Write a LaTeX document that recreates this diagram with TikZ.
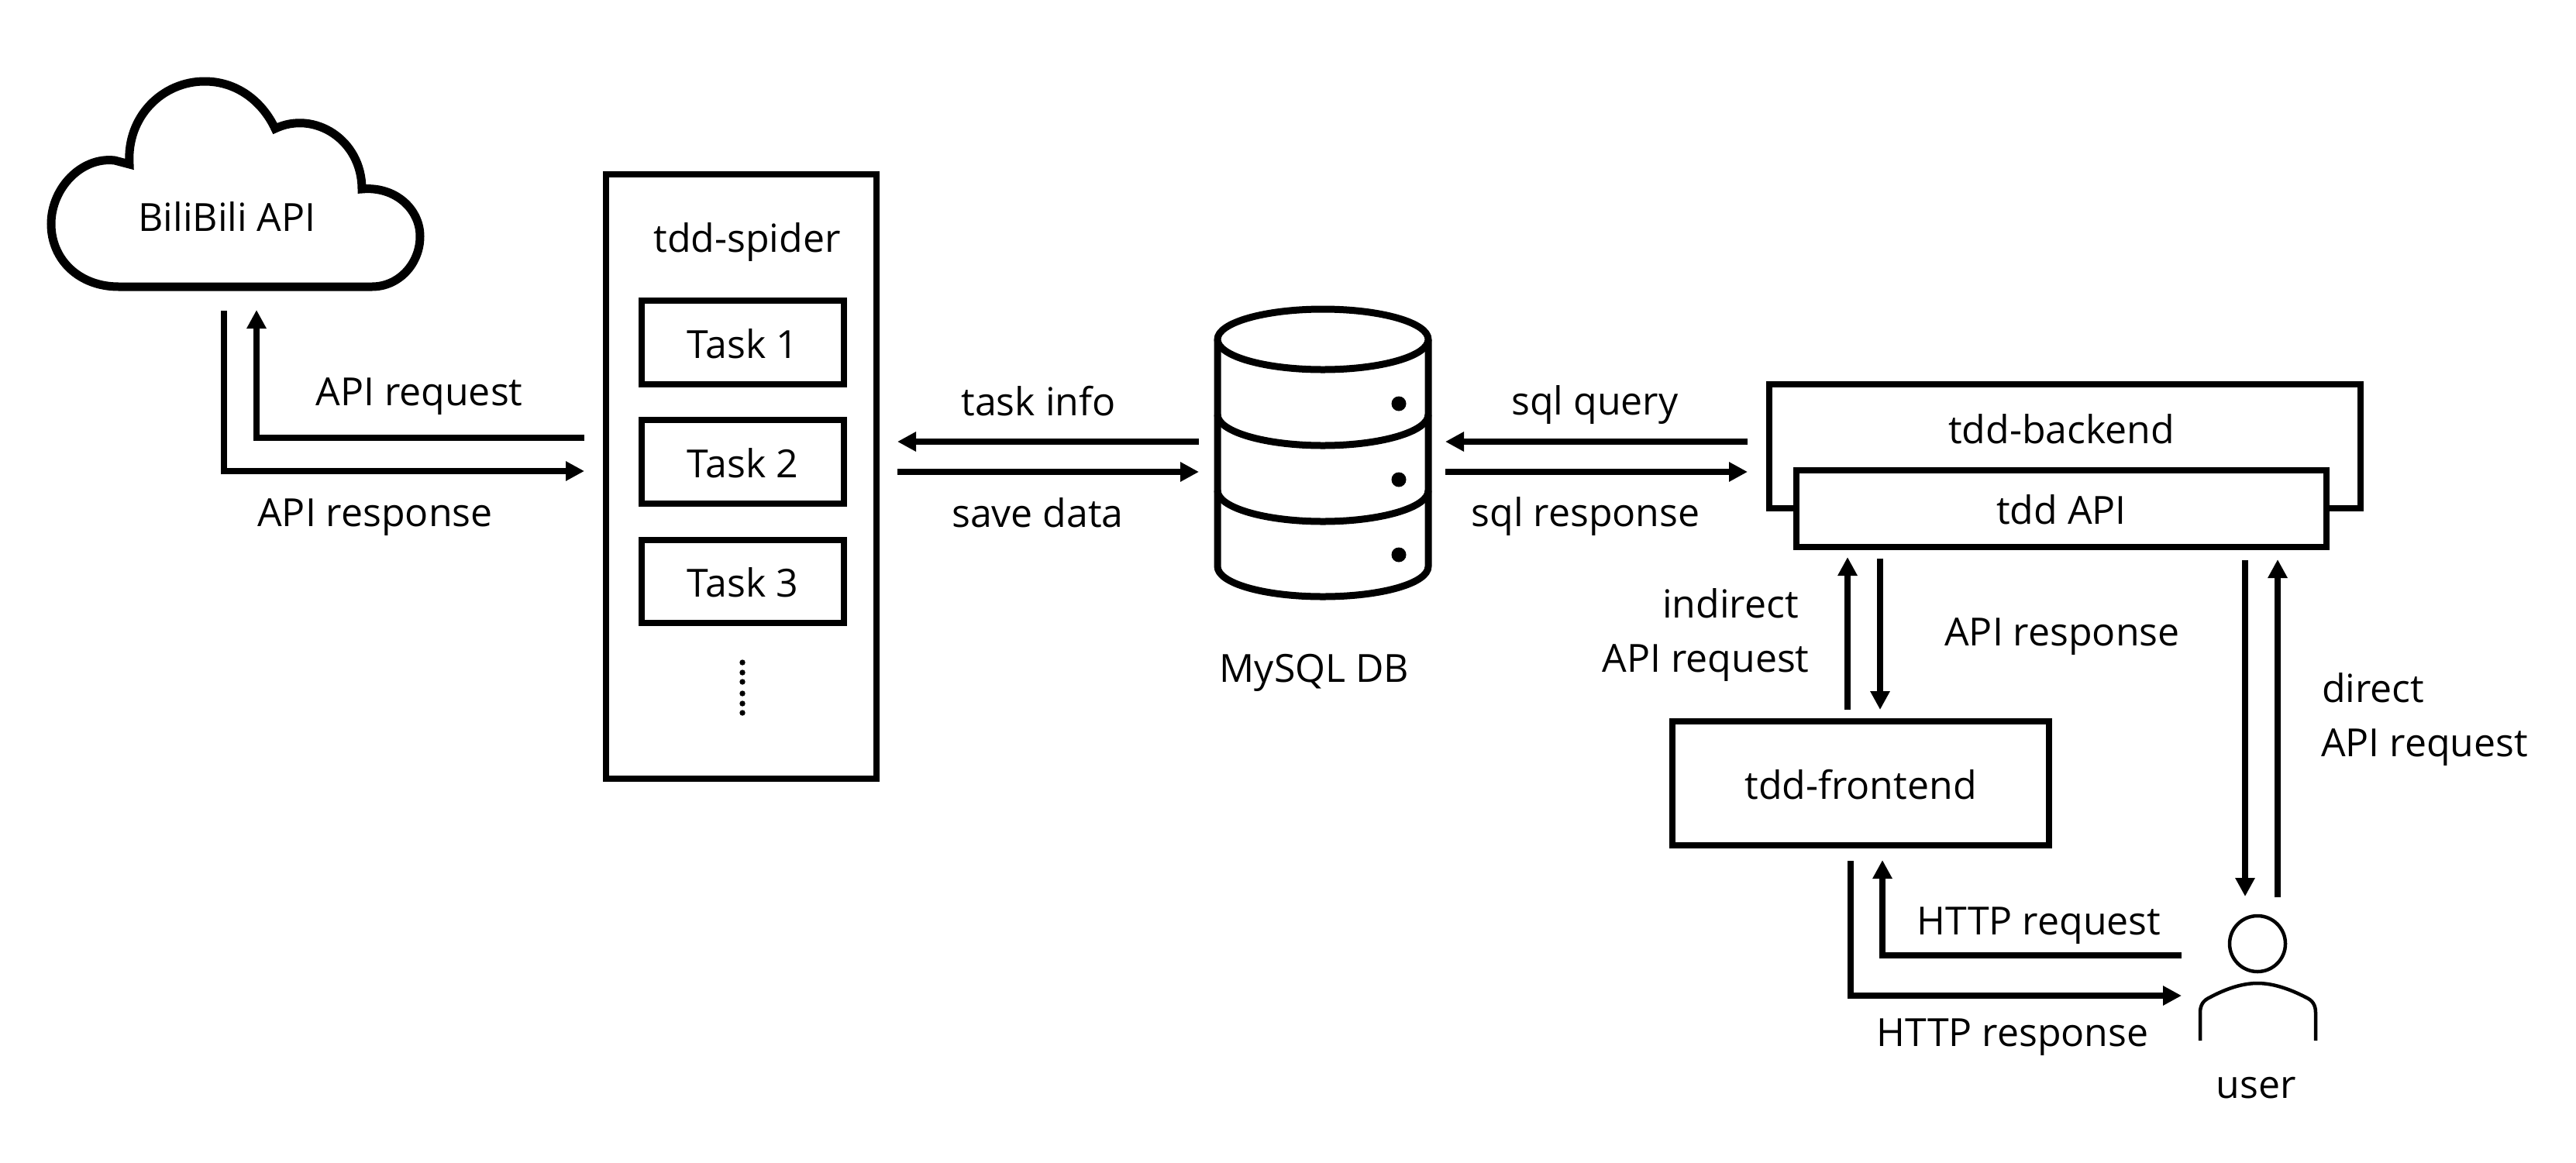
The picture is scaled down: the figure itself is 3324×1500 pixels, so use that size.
\documentclass[tikz,border=0pt]{standalone}
\usepackage{fontspec}
\setmainfont{Open Sans}
\usetikzlibrary{arrows.meta}
\tikzset{
  lbl/.style={anchor=base,inner sep=0pt,outer sep=0pt,font=\fontsize{50}{60}\selectfont},
  lblw/.style={lbl,anchor=base west},
  boxed/.style={draw=black,line width=8pt,fill=white,inner sep=0pt,outer sep=0pt,
    text height=50pt,text depth=10pt,font=\fontsize{50}{60}\selectfont},
  conn/.style={draw=black,line width=8pt,line cap=butt,miter limit=10},
  arr/.style={conn,-{Triangle[length=24pt,width=24pt]}},
  thick outline/.style={draw=black,line width=9pt,line join=round},
}
\begin{document}
\begin{tikzpicture}[x=1pt,y=-1pt]
\path[use as bounding box,fill=white] (0,0) rectangle (3324,1500);

% cloud
\path[draw=black,line width=11pt,fill=white,miter limit=4]
  (153,370) .. controls (102,370) and (66,335) .. (66,289)
  .. controls (66,243) and (105,202) .. (148,207) -- (167,212)
  .. controls (163,150) and (210,105) .. (264,105)
  .. controls (305,105) and (338,130) .. (355,166)
  .. controls (405,142) and (467,180) .. (467,244)
  .. controls (510,240) and (542,270) .. (542,305)
  .. controls (542,340) and (515,370) .. (480,370) -- cycle;
\node[lbl] (cloud) at (293,298) {BiliBili API};

% spider
\node[boxed,minimum width=349pt,minimum height=780pt] (spider) at (956.5,615) {};
\node[lbl] (spidertitle) at (964,325) {tdd-spider};
\node[boxed,minimum width=261pt,minimum height=108pt] (task1) at (958.5,442) {Task 1};
\node[boxed,minimum width=261pt,minimum height=108pt] (task2) at (958.5,596) {Task 2};
\node[boxed,minimum width=261pt,minimum height=107pt] (task3) at (958.5,750.5) {Task 3};
\foreach \yy in {855,868,880,895,908,920} \fill (958,\yy) circle (3.7pt);

% database
\path[thick outline,fill=white] (1571,438) -- (1571,731)
  .. controls (1571,753) and (1632,770) .. (1707,770)
  .. controls (1782,770) and (1843,753) .. (1843,731) -- (1843,438);
\path[thick outline,fill=white] (1707,438) ellipse [x radius=136pt,y radius=39pt];
\foreach \yy in {535,633}
  \path[thick outline] (1571,\yy) .. controls (1571,\yy+22) and (1632,\yy+40) .. (1707,\yy+40)
    .. controls (1782,\yy+40) and (1843,\yy+22) .. (1843,\yy);
\foreach \yy in {521,619,716} \fill (1805,\yy) circle (9.5pt);
\node[lbl] (db) at (1696,880) {MySQL DB};
\coordinate (dbL1) at (1547,570); \coordinate (dbL2) at (1547,609);
\coordinate (dbR1) at (1865,570); \coordinate (dbR2) at (1865,609);

% backend
\draw[draw=black,line width=8pt] (2318,656) -- (2283,656) -- (2283,496) -- (3046,496) -- (3046,656) -- (3002,656);
\node[lbl] (backend) at (2660,572) {tdd-backend};
\node[boxed,minimum width=684pt,minimum height=99pt] (api) at (2660,656.5) {tdd API};

% frontend
\node[boxed,minimum width=486pt,minimum height=160pt] (frontend) at (2401,1011) {tdd-frontend};

% user
\node[draw=black,line width=4.5pt,shape=circle,minimum size=72pt,inner sep=0pt] (userhead) at (2913,1218) {};
\path[draw=black,line width=4.5pt,line join=round] (2839,1343) -- (2839,1307)
  .. controls (2839,1297) and (2843,1291) .. (2852,1287)
  .. controls (2880,1272) and (2900,1269) .. (2913,1269)
  .. controls (2926,1269) and (2946,1272) .. (2975,1287)
  .. controls (2984,1291) and (2988,1297) .. (2988,1307) -- (2988,1343);
\node[lbl] (user) at (2911,1417) {user};

% connector ends
\coordinate (cloudA) at (331,400);
\coordinate (cloudB) at (289,401);
\coordinate (spL1) at (754,565); \coordinate (spL2) at (754,608);
\coordinate (spR1) at (1158,570); \coordinate (spR2) at (1158,609);
\coordinate (bkL1) at (2255,570); \coordinate (bkL2) at (2255,609);
\coordinate (apiA) at (2384,719); \coordinate (apiB) at (2426,721);
\coordinate (feA) at (2384,916); \coordinate (feB) at (2426,916);
\coordinate (apiC) at (2897,723); \coordinate (apiD) at (2939,722);
\coordinate (usC) at (2897,1157); \coordinate (usD) at (2939,1158);
\coordinate (feC) at (2429,1110); \coordinate (feD) at (2388,1111);
\coordinate (usE) at (2815,1233); \coordinate (usF) at (2815,1285);

% connectors
\draw[arr] (spL1) -| (cloudA);
\draw[arr] (cloudB) |- (spL2);
\draw[arr] (dbL1) -- (spR1);
\draw[arr] (spR2) -- (dbL2);
\draw[arr] (bkL1) -- (dbR1);
\draw[arr] (dbR2) -- (bkL2);
\draw[arr] (feA) -- (apiA);
\draw[arr] (apiB) -- (feB);
\draw[arr] (apiC) -- (usC);
\draw[arr] (usD) -- (apiD);
\draw[arr] (usE) -| (feC);
\draw[arr] (feD) |- (usF);

% connector labels
\node[lbl] (l1) at (541,523) {API request};
\node[lbl] (l2) at (484,679) {API response};
\node[lbl] (l3) at (1340,536) {task info};
\node[lbl] (l4) at (1339,680) {save data};
\node[lbl] (l5) at (2058,535) {sql query};
\node[lbl] (l6) at (2046,679) {sql response};
\node[lbl] (l7) at (2233,797) {indirect};
\node[lbl] (l8) at (2201,867) {API request};
\node[lbl] (l9) at (2661,833) {API response};
\node[lblw] (l10) at (2996,906) {direct};
\node[lblw] (l11) at (2995,976) {API request};
\node[lbl] (l12) at (2631,1206) {HTTP request};
\node[lbl] (l13) at (2597,1350) {HTTP response};
\end{tikzpicture}
\end{document}
